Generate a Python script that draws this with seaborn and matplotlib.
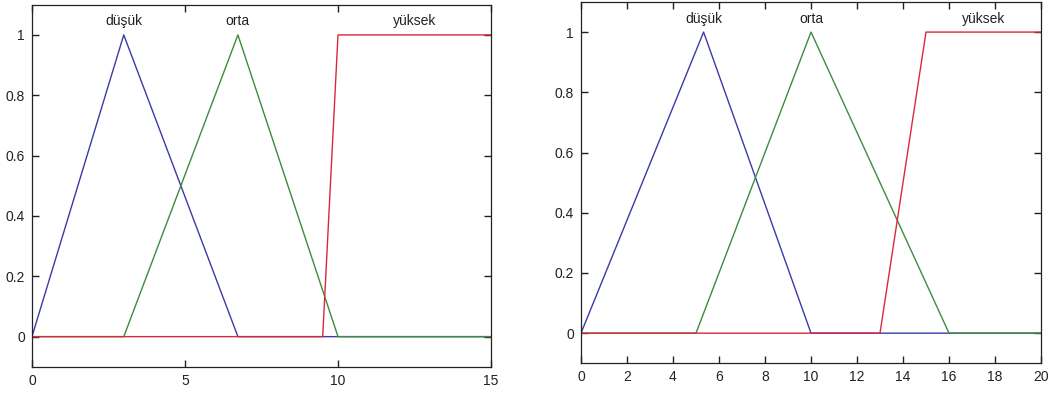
import numpy as np
import pandas as pd
import matplotlib
matplotlib.use("Agg")
import matplotlib.pyplot as plt
import seaborn as sns

# membership functions, breakpoints
labels = ["düşük", "orta", "yüksek"]

left_x = {
    "düşük": [0, 3, 6.73, 15],
    "orta": [0, 3, 6.73, 10, 15],
    "yüksek": [0, 9.5, 10, 15],
}
left_y = {
    "düşük": [0, 1, 0, 0],
    "orta": [0, 0, 1, 0, 0],
    "yüksek": [0, 0, 1, 1],
}
left_label_x = [3, 6.73, 12.5]
left_xticks = [0, 5, 10, 15]

right_x = {
    "düşük": [0, 5.33, 10, 20],
    "orta": [0, 5, 10, 16, 20],
    "yüksek": [0, 13, 15, 20],
}
right_y = {
    "düşük": [0, 1, 0, 0],
    "orta": [0, 0, 1, 0, 0],
    "yüksek": [0, 0, 1, 1],
}
right_label_x = [5.33, 10, 17.5]
right_xticks = list(range(0, 21, 2))

yticks = [0, 0.2, 0.4, 0.6, 0.8, 1]
colors = {"düşük": "#3a3aa8", "orta": "#3f8a3f", "yüksek": "#d8283c"}

sns.set_style("white", {
    "xtick.bottom": True, "xtick.top": True,
    "ytick.left": True, "ytick.right": True,
    "xtick.direction": "in", "ytick.direction": "in",
})
plt.rcParams["font.family"] = ["Liberation Sans", "DejaVu Sans"]
plt.rcParams["font.size"] = 10


def to_frame(xs, ys):
    rows = []
    for name in labels:
        for a, b in zip(xs[name], ys[name]):
            rows.append({"mf": name, "x": a, "y": b})
    return pd.DataFrame(rows)


def draw(ax, xs, ys, label_x, xticks, xmax):
    df = to_frame(xs, ys)
    for name in labels:
        sub = df[df["mf"] == name]
        sns.lineplot(data=sub, x="x", y="y", ax=ax, color=colors[name],
                     linewidth=1.0, sort=False, estimator=None)
    for name, lx in zip(labels, label_x):
        ax.text(lx, 1.045, name, ha="center", va="center", fontsize=10, color="#222222")
    ax.set_xlim(0, xmax)
    ax.set_ylim(-0.1, 1.1)
    ax.set_xticks(xticks)
    ax.set_xticklabels([str(t) for t in xticks])
    ax.set_yticks(yticks)
    ax.set_yticklabels(["0", "0.2", "0.4", "0.6", "0.8", "1"])
    ax.set_xlabel("")
    ax.set_ylabel("")
    ax.tick_params(direction="in", length=5, width=1.0, top=True, right=True,
                   bottom=True, left=True,
                   labelsize=10, colors="#222222", pad=5)
    ax.tick_params(which="both", labelbottom=True, labelleft=True)
    for s in ax.spines.values():
        s.set_color("#222222")
        s.set_linewidth(0.9)


fig = plt.figure(figsize=(10.51, 3.94), dpi=100)
ax1 = fig.add_axes([0.0304, 0.069, 0.4368, 0.919])
ax2 = fig.add_axes([0.5528, 0.078, 0.4377, 0.917])

draw(ax1, left_x, left_y, left_label_x, left_xticks, 15)
draw(ax2, right_x, right_y, right_label_x, right_xticks, 20)

fig.savefig("out.png", dpi=100)
